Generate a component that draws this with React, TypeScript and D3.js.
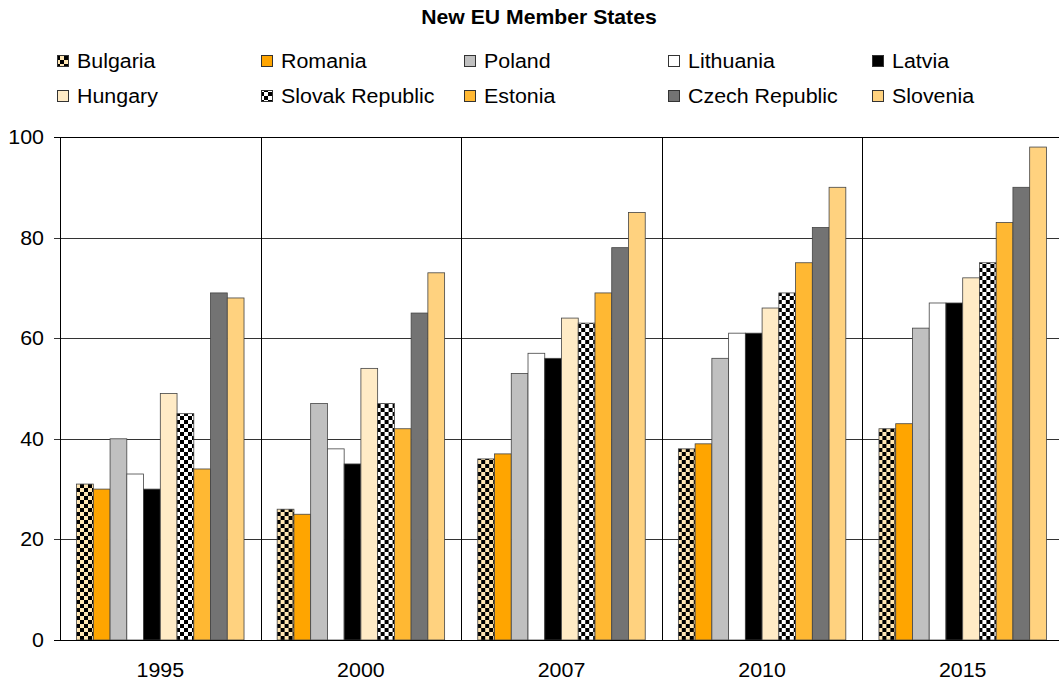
import React from "react";
import * as d3 from "d3";

const years = ["1995", "2000", "2007", "2010", "2015"];
const countries = [
  "Bulgaria",
  "Romania",
  "Poland",
  "Lithuania",
  "Latvia",
  "Hungary",
  "Slovak Republic",
  "Estonia",
  "Czech Republic",
  "Slovenia",
];
const bulgaria = [31, 26, 36, 38, 42];
const romania = [30, 25, 37, 39, 43];
const poland = [40, 47, 53, 56, 62];
const lithuania = [33, 38, 57, 61, 67];
const latvia = [30, 35, 56, 61, 67];
const hungary = [49, 54, 64, 66, 72];
const slovak = [45, 47, 63, 69, 75];
const estonia = [34, 42, 69, 75, 83];
const czech = [69, 65, 78, 82, 90];
const slovenia = [68, 73, 85, 90, 98];
const seriesValues = [bulgaria, romania, poland, lithuania, latvia, hungary, slovak, estonia, czech, slovenia];
const yTicks = [0, 20, 40, 60, 80, 100];

const fills = [
  "url(#chkBul)",
  "#FFA500",
  "#C0C0C0",
  "#FFFFFF",
  "#000000",
  "#FFEBC6",
  "url(#chkSlo)",
  "#FFB833",
  "#737373",
  "#FFD27F",
];

const FONT = "'Liberation Sans', Arial, Helvetica, sans-serif";

function SText(props: {
  x: number;
  y: number;
  anchor?: "start" | "middle" | "end";
  size: number;
  sx: number;
  bold?: boolean;
  children: React.ReactNode;
}) {
  return (
    <text
      transform={`translate(${props.x},${props.y}) scale(${props.sx},1)`}
      textAnchor={props.anchor || "start"}
      fontSize={props.size}
      fontWeight={props.bold ? "bold" : "normal"}
      fill="#000"
    >
      {props.children}
    </text>
  );
}

export default function App() {
  const W = 1059;
  const H = 684;
  const left = 60;
  const right = 1063;
  const top = 137;
  const bottom = 640;

  const x0 = d3.scaleBand<string>().domain(years).range([left, right]).paddingInner(0).paddingOuter(0);
  const x1 = d3
    .scaleBand<string>()
    .domain(countries)
    .range([0, x0.bandwidth()])
    .paddingInner(0)
    .paddingOuter(0.99);
  const y = d3.scaleLinear().domain([0, 100]).range([bottom, top]);

  const legendCols = [57, 261, 464, 668, 872];
  const legendRows = [68, 103];
  const FS = 20;
  const SX = 1.07;

  return (
    <svg
      width={W}
      height={H}
      style={{ position: "absolute", left: 0, top: 0, background: "#fff" }}
      fontFamily={FONT}
    >
      <defs>
        <pattern id="chkBul" patternUnits="userSpaceOnUse" width={8} height={8}>
          <rect width={8} height={8} fill="#FFE6B3" />
          <rect width={4} height={4} fill="#000" />
          <rect x={4} y={4} width={4} height={4} fill="#000" />
        </pattern>
        <pattern id="chkSlo" patternUnits="userSpaceOnUse" width={8} height={8}>
          <rect width={8} height={8} fill="#FFFFFF" />
          <rect width={4} height={4} fill="#000" />
          <rect x={4} y={4} width={4} height={4} fill="#000" />
        </pattern>
      </defs>
      <rect width={W} height={H} fill="#fff" />

      <SText x={539} y={24} anchor="middle" size={20} sx={1.06} bold>
        New EU Member States
      </SText>

      {countries.map((c, i) => {
        const col = i % 5;
        const row = Math.floor(i / 5);
        const lx = legendCols[col];
        const ly = legendRows[row];
        return (
          <g key={c}>
            <rect x={lx + 0.5} y={ly - 12.5} width={11} height={11} fill={fills[i]} stroke="#333" strokeWidth={1} />
            <SText x={lx + 20} y={ly} size={FS} sx={SX}>
              {c}
            </SText>
          </g>
        );
      })}

      {/* horizontal gridlines */}
      {yTicks.map((t) => (
        <g key={t}>
          <line
            x1={left - 6}
            x2={right}
            y1={Math.round(y(t)) + 0.5}
            y2={Math.round(y(t)) + 0.5}
            stroke={t === 0 || t === 100 ? "#000" : "#333"}
            strokeWidth={1}
          />
          <SText x={44} y={y(t) + 7} anchor="end" size={FS} sx={SX}>
            {t}
          </SText>
        </g>
      ))}

      {/* vertical category lines */}
      {years.map((yr) => (
        <line
          key={yr}
          x1={Math.round(x0(yr)!) + 0.5}
          x2={Math.round(x0(yr)!) + 0.5}
          y1={top}
          y2={bottom}
          stroke="#000"
          strokeWidth={1}
        />
      ))}

      {/* bars */}
      {years.map((yr, yi) => (
        <g key={yr} transform={`translate(${x0(yr)},0)`}>
          {countries.map((c, ci) => {
            const v = seriesValues[ci][yi];
            return (
              <rect
                key={c}
                x={x1(c)}
                y={y(v)}
                width={x1.bandwidth()}
                height={bottom - y(v)}
                fill={fills[ci]}
                stroke="#444"
                strokeWidth={0.8}
              />
            );
          })}
        </g>
      ))}

      <line x1={left} x2={right} y1={bottom + 0.5} y2={bottom + 0.5} stroke="#000" />

      {years.map((yr) => (
        <SText key={yr} x={x0(yr)! + x0.bandwidth() / 2} y={677} anchor="middle" size={FS} sx={SX}>
          {yr}
        </SText>
      ))}
    </svg>
  );
}
